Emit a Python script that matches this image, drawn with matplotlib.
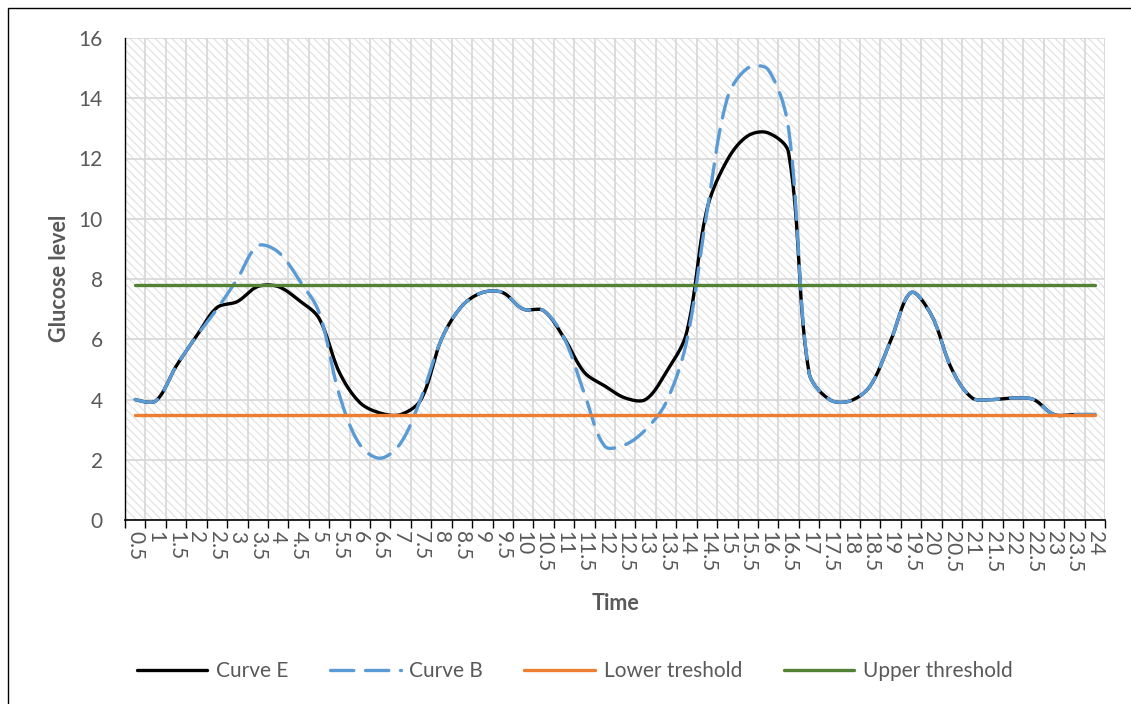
import numpy as np
import matplotlib.pyplot as plt
from matplotlib.patches import Rectangle

plt.rcParams['font.family'] = ['Lato', 'DejaVu Sans']
plt.rcParams['hatch.linewidth'] = 0.8

# time axis (hours) and glucose readings
times = [0.5, 1, 1.5, 2, 2.5, 3, 3.5, 4, 4.5, 5, 5.5, 6, 6.5, 7, 7.5, 8,
         8.5, 9, 9.5, 10, 10.5, 11, 11.5, 12, 12.5, 13, 13.5, 14, 14.5, 15,
         15.5, 16, 16.5, 17, 17.5, 18, 18.5, 19, 19.5, 20, 20.5, 21, 21.5,
         22, 22.5, 23, 23.5, 24]

curve_e = [4.0, 3.95, 5.1, 6.1, 7.05, 7.25, 7.75, 7.75, 7.3, 6.7, 4.9, 3.9,
           3.55, 3.5, 4.0, 6.0, 7.1, 7.55, 7.55, 7.0, 6.95, 6.05, 4.9, 4.45,
           4.05, 4.0, 4.9, 6.2, 10.3, 11.95, 12.75, 12.85, 12.2, 4.9, 4.0,
           3.95, 4.45, 5.95, 7.55, 6.8, 5.0, 4.05, 4.0, 4.05, 4.0, 3.5, 3.5,
           3.5]

curve_b = [4.0, 3.95, 5.1, 6.1, 7.0, 8.0, 9.1, 8.9, 8.0, 6.9, 4.15, 2.5,
           2.05, 2.55, 4.05, 6.0, 7.1, 7.55, 7.55, 7.0, 6.95, 6.05, 4.2, 2.45,
           2.5, 3.0, 3.9, 5.9, 10.2, 14.0, 15.0, 14.95, 13.0, 4.9, 4.0,
           3.95, 4.45, 5.95, 7.55, 6.8, 5.0, 4.05, 4.0, 4.05, 4.0, 3.5, 3.5,
           3.5]

lower = [3.5] * len(times)
upper = [7.8] * len(times)


def smooth(x, y, sx=20.4, sy=30.1, steps=30):
    # bezier "smoothed line": tangent arms are shared out by chord length,
    # measured in screen units (sx, sy = pixels per x / y unit)
    p = np.column_stack([np.asarray(x, float) * sx, np.asarray(y, float) * sy])
    n = len(p)
    d = np.hypot(*np.diff(p, axis=0).T)
    out = []
    for i in range(n - 1):
        p1, p2 = p[i], p[i + 1]
        if i > 0:
            c1 = p1 + (p2 - p[i - 1]) * d[i] / (d[i - 1] + d[i]) / 3
        else:
            c1 = p1
        if i + 2 < n:
            c2 = p2 - (p[i + 2] - p1) * d[i] / (d[i] + d[i + 1]) / 3
        else:
            c2 = p2
        t = np.linspace(0, 1, steps)[:, None]
        seg = ((1 - t) ** 3 * p1 + 3 * (1 - t) ** 2 * t * c1
               + 3 * (1 - t) * t ** 2 * c2 + t ** 3 * p2)
        out.append(seg if i == 0 else seg[1:])
    seg = np.vstack(out)
    return seg[:, 0] / sx, seg[:, 1] / sy


fig = plt.figure(figsize=(11.31, 7.04), dpi=100)
ax = fig.add_axes([125 / 1131, 1 - 520 / 704, 980 / 1131, 482 / 704])

pos = np.arange(len(times))

# patterned plot area
ax.set_facecolor('white')
ax.add_patch(Rectangle((0, 0), 1, 1, transform=ax.transAxes, facecolor='white',
                       edgecolor='#e0e0e0', hatch='\\\\\\\\', lw=0, zorder=0))

xs, ys = smooth(pos, curve_e)
ax.plot(xs, ys, color='black', lw=2.4, label='Curve E', zorder=3,
        solid_capstyle='round')
xs, ys = smooth(pos, curve_b)
ax.plot(xs, ys, color='#5B9BD5', lw=2.4, dashes=(7, 3.5), label='Curve B',
        zorder=4, dash_capstyle='round')
ax.plot(pos, lower, color='#ED7D31', lw=2.4, label='Lower treshold', zorder=5,
        solid_capstyle='round')
ax.plot(pos, upper, color='#548235', lw=2.4, label='Upper threshold', zorder=6,
        solid_capstyle='round')

ax.set_xlim(-0.5, len(times) - 0.5)
ax.set_ylim(0, 16)
ax.set_yticks(np.arange(0, 17, 2))

labels = [('%g' % t) for t in times]
ax.set_xticks(pos)
ax.set_xticklabels(labels, rotation=270)
ax.set_xticks(np.arange(-0.5, len(times)), minor=True)

ax.tick_params(axis='x', which='major', length=0, pad=8, labelsize=15,
               labelcolor='#595959')
ax.tick_params(axis='x', which='minor', length=6, width=1, color='black')
ax.tick_params(axis='y', length=0, pad=16, labelsize=15, labelcolor='#595959')

ax.grid(True, axis='y', color='#d9d9d9', lw=1.3, zorder=1)
ax.grid(True, axis='x', which='minor', color='#d9d9d9', lw=1.3, zorder=1)
ax.set_axisbelow(True)

for side in ['top', 'right']:
    ax.spines[side].set_visible(False)
ax.spines['left'].set_color('black')
ax.spines['bottom'].set_color('black')
ax.spines['left'].set_linewidth(1)
ax.spines['bottom'].set_linewidth(1.2)

ax.set_xlabel('Time', fontsize=15.5, fontweight='bold', color='#595959')
ax.set_ylabel('Glucose level', fontsize=15.5, fontweight='bold', color='#595959')
ax.xaxis.set_label_coords(0.5, -0.152)
ax.yaxis.set_label_coords(-0.056, 0.502)

fig.legend(loc='center', bbox_to_anchor=(0.508, 0.047), ncol=4, frameon=False,
           fontsize=15, handlelength=3.4, columnspacing=2.0, handletextpad=0.4,
           labelcolor='#595959')

# chart border
fig.add_artist(Rectangle((7.5 / 1131, -0.1), 1.2, 1 - 7.5 / 704 + 0.1,
                         transform=fig.transFigure, fill=False,
                         edgecolor='black', lw=1))

fig.savefig('out.png', dpi=100)
